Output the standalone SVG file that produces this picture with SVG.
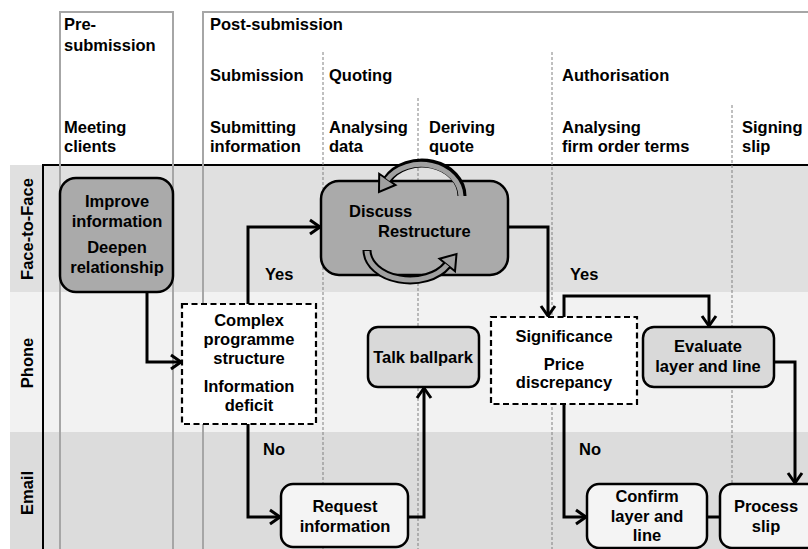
<svg xmlns="http://www.w3.org/2000/svg" width="808" height="549" viewBox="0 0 808 549">
<style>
text{font-family:"Liberation Sans",Arial,sans-serif;font-weight:bold;font-size:16.5px;fill:#000}
.c{text-anchor:middle}
.phase{fill:none;stroke:#a6a6a6;stroke-width:2}
.dot{stroke:#808080;stroke-width:1;stroke-dasharray:3 2;fill:none}
.node{stroke:#000;stroke-width:2.5}
.dark{fill:#aaaaaa}
.light{fill:#d9d9d9}
.pale{fill:#f4f4f4}
.dash{fill:#fff;stroke:#000;stroke-width:2.2;stroke-dasharray:6 3.5}
.conn{fill:none;stroke:#000;stroke-width:3}
</style>
<defs>
<marker id="ah" markerUnits="userSpaceOnUse" orient="auto" overflow="visible" refX="0" refY="0" markerWidth="20" markerHeight="20">
<path d="M-10,-7 L0,0 L-10,7" fill="none" stroke="#000" stroke-width="3"/>
</marker>
</defs>
<rect width="808" height="549" fill="#fff"/>
<g id="lanes">
<rect x="10" y="165" width="798" height="127" fill="#e0e0e0"/>
<rect x="10" y="292" width="798" height="140" fill="#f2f2f2"/>
<rect x="10" y="432" width="798" height="117" fill="#dcdcdc"/>
<text class="c" transform="translate(33,229) rotate(-90)">Face-to-Face</text>
<text class="c" transform="translate(33,363) rotate(-90)">Phone</text>
<text class="c" transform="translate(33,493) rotate(-90)">Email</text>
<path d="M43,549 V165 H808" fill="none" stroke="#000" stroke-width="2"/>
</g>
<g id="phases">
<rect class="phase" x="60" y="12" width="113" height="545"/>
<path class="phase" d="M203,552 V12 H812"/>
<path class="dot" d="M323,52 V549 M418,98 V549 M552,52 V549 M732,105 V549"/>
<text x="64" y="30">Pre-</text>
<text x="64" y="51">submission</text>
<text x="210" y="30">Post-submission</text>
<text x="210" y="81">Submission</text>
<text x="329" y="81">Quoting</text>
<text x="562" y="81">Authorisation</text>
<text x="64" y="133">Meeting</text>
<text x="64" y="152">clients</text>
<text x="210" y="133">Submitting</text>
<text x="210" y="152">information</text>
<text x="329" y="133">Analysing</text>
<text x="329" y="152">data</text>
<text x="429" y="133">Deriving</text>
<text x="429" y="152">quote</text>
<text x="562" y="133">Analysing</text>
<text x="562" y="152">firm order terms</text>
<text x="742" y="133">Signing</text>
<text x="742" y="152">slip</text>
</g>
<g id="connectors">
<path class="conn" d="M147,292 V362 H181" marker-end="url(#ah)"/>
<path class="conn" d="M248,304 V227 H320" marker-end="url(#ah)"/>
<path class="conn" d="M248,424 V517 H280" marker-end="url(#ah)"/>
<path class="conn" d="M408,517 H424 V388" marker-end="url(#ah)"/>
<path class="conn" d="M508,227 H548 V316" marker-end="url(#ah)"/>
<path class="conn" d="M564,317 V296 H709 V326" marker-end="url(#ah)"/>
<path class="conn" d="M774,362 H795 V483" marker-end="url(#ah)"/>
<path class="conn" d="M564,404 V517 H586" marker-end="url(#ah)"/>
<path class="conn" d="M707,517 H720"/>
<text x="265" y="280">Yes</text>
<text x="263" y="455">No</text>
<text x="570" y="280">Yes</text>
<text x="579" y="455">No</text>
</g>
<g id="n-improve">
<rect class="node dark" x="60" y="178" width="113" height="114" rx="16"/>
<text class="c" x="117" y="207">Improve</text>
<text class="c" x="117" y="227">information</text>
<text class="c" x="117" y="253">Deepen</text>
<text class="c" x="117" y="273">relationship</text>
</g>
<g id="n-discuss">
<rect class="node dark" x="321" y="181" width="187" height="94" rx="18"/>
<text x="349" y="217">Discuss</text>
<text x="378" y="237">Restructure</text>
<path d="M462,196 A40,33 0 0 0 387.4,179.5" fill="none" stroke="#000" stroke-width="9"/>
<polygon points="395.5,185 379.2,173.8 379,192" fill="#a0a0a0" stroke="#000" stroke-width="2" stroke-linejoin="miter"/>
<path d="M461,196 A40,33 0 0 0 387.4,179.5" fill="none" stroke="#a0a0a0" stroke-width="5"/>
<path d="M367,250 A43,30 0 0 0 447.2,265" fill="none" stroke="#000" stroke-width="9"/>
<polygon points="455,271.3 439.5,258.7 456.5,254" fill="#a0a0a0" stroke="#000" stroke-width="2"/>
<path d="M367,251 A43,30 0 0 0 447.2,265" fill="none" stroke="#a0a0a0" stroke-width="5"/>
</g>
<g id="n-complex">
<rect class="dash" x="182" y="304" width="134" height="120"/>
<text class="c" x="249" y="326">Complex</text>
<text class="c" x="249" y="345">programme</text>
<text class="c" x="249" y="364">structure</text>
<text class="c" x="249" y="392">Information</text>
<text class="c" x="249" y="411">deficit</text>
</g>
<g id="n-talk">
<rect class="node light" x="368" y="327" width="111" height="60" rx="10"/>
<text class="c" x="423" y="363">Talk ballpark</text>
</g>
<g id="n-request">
<rect class="node pale" x="281" y="484" width="127" height="63" rx="12"/>
<text class="c" x="345" y="512">Request</text>
<text class="c" x="345" y="532">information</text>
</g>
<g id="n-significance">
<rect class="dash" x="491" y="317" width="146" height="87"/>
<text class="c" x="564" y="342">Significance</text>
<text class="c" x="564" y="370">Price</text>
<text class="c" x="564" y="388">discrepancy</text>
</g>
<g id="n-evaluate">
<rect class="node light" x="643" y="327" width="131" height="60" rx="11"/>
<text class="c" x="708" y="352">Evaluate</text>
<text class="c" x="708" y="372">layer and line</text>
</g>
<g id="n-confirm">
<rect class="node pale" x="587" y="484" width="120" height="64" rx="12"/>
<text class="c" x="647" y="502">Confirm</text>
<text class="c" x="647" y="522">layer and</text>
<text class="c" x="647" y="541">line</text>
</g>
<g id="n-process">
<rect class="node pale" x="720" y="484" width="100" height="64" rx="12"/>
<text class="c" x="766" y="512">Process</text>
<text class="c" x="766" y="532">slip</text>
</g>
</svg>
